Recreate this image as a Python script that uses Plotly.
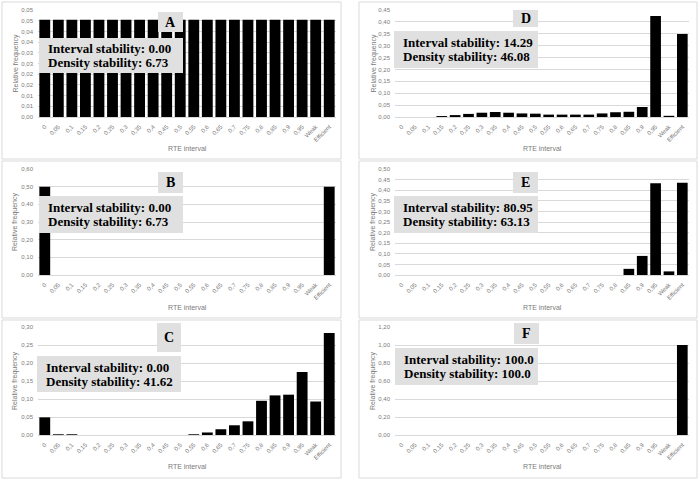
import plotly.graph_objects as go

W, H = 700, 481

CATEGORIES = ["0", "0,05", "0,1", "0,15", "0,2", "0,25", "0,3", "0,35", "0,4", "0,45", "0,5",
              "0,55", "0,6", "0,65", "0,7", "0,75", "0,8", "0,85", "0,9", "0,95", "Weak", "Efficient"]

VALUES_A = [0.0455, 0.0455, 0.0455, 0.0455, 0.0455, 0.0455, 0.0455, 0.0455, 0.0455, 0.0455, 0.0455,
            0.0455, 0.0455, 0.0455, 0.0455, 0.0455, 0.0455, 0.0455, 0.0455, 0.0455, 0.0455, 0.0455]
VALUES_B = [0.50, 0, 0, 0, 0, 0, 0, 0, 0, 0, 0,
            0, 0, 0, 0, 0, 0, 0, 0, 0, 0, 0.50]
VALUES_C = [0.049, 0.002, 0.002, 0, 0, 0, 0, 0, 0, 0, 0,
            0.002, 0.007, 0.016, 0.027, 0.038, 0.095, 0.110, 0.112, 0.175, 0.093, 0.283]
VALUES_D = [0, 0, 0, 0.004, 0.008, 0.013, 0.018, 0.021, 0.018, 0.015, 0.014,
            0.010, 0.010, 0.010, 0.010, 0.015, 0.020, 0.022, 0.042, 0.425, 0.005, 0.349]
VALUES_E = [0, 0, 0, 0, 0, 0, 0, 0, 0, 0, 0,
            0, 0, 0, 0, 0, 0, 0.029, 0.090, 0.433, 0.017, 0.435]
VALUES_F = [0, 0, 0, 0, 0, 0, 0, 0, 0, 0, 0,
            0, 0, 0, 0, 0, 0, 0, 0, 0, 0, 1.00]

TICKVALS_A = [0, 0.005, 0.01, 0.015, 0.02, 0.025, 0.03, 0.035, 0.04, 0.045, 0.05]
TICKTEXT_A = ["0,00", "0,01", "0,01", "0,02", "0,02", "0,03", "0,03", "0,04", "0,04", "0,05", "0,05"]
TICKVALS_B = [0, 0.1, 0.2, 0.3, 0.4, 0.5, 0.6]
TICKTEXT_B = ["0,00", "0,10", "0,20", "0,30", "0,40", "0,50", "0,60"]
TICKVALS_C = [0, 0.05, 0.10, 0.15, 0.20, 0.25, 0.30]
TICKTEXT_C = ["0,00", "0,05", "0,10", "0,15", "0,20", "0,25", "0,30"]
TICKVALS_D = [0, 0.05, 0.10, 0.15, 0.20, 0.25, 0.30, 0.35, 0.40, 0.45]
TICKTEXT_D = ["0,00", "0,05", "0,10", "0,15", "0,20", "0,25", "0,30", "0,35", "0,40", "0,45"]
TICKVALS_E = [0, 0.05, 0.10, 0.15, 0.20, 0.25, 0.30, 0.35, 0.40, 0.45, 0.50]
TICKTEXT_E = ["0,00", "0,05", "0,10", "0,15", "0,20", "0,25", "0,30", "0,35", "0,40", "0,45", "0,50"]
TICKVALS_F = [0, 0.2, 0.4, 0.6, 0.8, 1.0, 1.2]
TICKTEXT_F = ["0,00", "0,20", "0,40", "0,60", "0,80", "1,00", "1,20"]

LETTERS = ["A", "B", "C", "D", "E", "F"]
INTERVAL_STAB = ["0.00", "0.00", "0.00", "14.29", "80.95", "100.0"]
DENSITY_STAB = ["6.73", "6.73", "41.62", "46.08", "63.13", "100.0"]

X_TITLE = "RTE interval"
Y_TITLE = "Relative frequency"

panels = [
    dict(vals=VALUES_A, tv=TICKVALS_A, tt=TICKTEXT_A, col=0, row=0,
         letter_box=(158, 12, 183, 32), text_box=(39, 38, 183, 73)),
    dict(vals=VALUES_B, tv=TICKVALS_B, tt=TICKTEXT_B, col=0, row=1,
         letter_box=(158, 172, 183, 193), text_box=(39, 196, 183, 233)),
    dict(vals=VALUES_C, tv=TICKVALS_C, tt=TICKTEXT_C, col=0, row=2,
         letter_box=(157, 323, 181, 352), text_box=(37, 356, 181, 392)),
    dict(vals=VALUES_D, tv=TICKVALS_D, tt=TICKTEXT_D, col=1, row=0,
         letter_box=(513, 10, 538, 27), text_box=(394, 31, 538, 68)),
    dict(vals=VALUES_E, tv=TICKVALS_E, tt=TICKTEXT_E, col=1, row=1,
         letter_box=(513, 172, 538, 193), text_box=(394, 196, 538, 233)),
    dict(vals=VALUES_F, tv=TICKVALS_F, tt=TICKTEXT_F, col=1, row=2,
         letter_box=(514, 323, 539, 344), text_box=(395, 348, 538, 385)),
]

COL_X = [(38, 336), (395, 689)]
ROW_Y = [(10, 117), (169, 275), (327, 435)]
BORDER_X = [(2, 341), (359, 697)]
BORDER_Y = [(2, 159), (161, 318), (320, 478)]
X_TITLE_Y = [149, 307, 466]
Y_TITLE_X = [15, 373]

def px(x):
    return x / W

def py(y):
    return 1 - y / H

GRAY = "#d9d9d9"
TXT = "#7a7a7a"
BOX = "#e0e0e0"
SERIF = "Liberation Serif"
SANS = "Liberation Sans"

fig = go.Figure()
layout = dict(width=W, height=H, margin=dict(l=0, r=0, t=0, b=0), autosize=False,
              plot_bgcolor="white", paper_bgcolor="white", showlegend=False,
              bargap=0.2, shapes=[], annotations=[])

for i, p in enumerate(panels):
    n = "" if i == 0 else str(i + 1)
    xa, ya = "x" + n, "y" + n
    fig.add_trace(go.Bar(x=CATEGORIES, y=p["vals"], xaxis=xa, yaxis=ya,
                         marker=dict(color="black", line=dict(width=0)),
                         hoverinfo="skip"))
    x0, x1 = COL_X[p["col"]]
    y0, y1 = ROW_Y[p["row"]]
    layout["xaxis" + n] = dict(domain=[px(x0), px(x1)], anchor=ya, type="category",
                               tickangle=-45, tickfont=dict(family=SANS, size=6, color=TXT),
                               showgrid=False, showline=True, linecolor=GRAY, linewidth=1,
                               ticks="", ticklabelstandoff=3, automargin=False, fixedrange=True)
    layout["yaxis" + n] = dict(domain=[py(y1), py(y0)], anchor=xa,
                               range=[0, p["tv"][-1]], tickvals=p["tv"], ticktext=p["tt"],
                               tickfont=dict(family=SANS, size=6, color=TXT),
                               showgrid=True, gridcolor=GRAY, gridwidth=1, zeroline=False,
                               showline=False, ticks="", ticklabelstandoff=4,
                               automargin=False, fixedrange=True)
    bx0, bx1 = BORDER_X[p["col"]]
    by0, by1 = BORDER_Y[p["row"]]
    layout["shapes"].append(dict(type="rect", xref="paper", yref="paper",
                                 x0=px(bx0), x1=px(bx1), y0=py(by1), y1=py(by0),
                                 line=dict(color=GRAY, width=1), fillcolor="rgba(0,0,0,0)",
                                 layer="below"))
    for (ax0, ay0, ax1, ay1) in (p["letter_box"], p["text_box"]):
        layout["shapes"].append(dict(type="rect", xref="paper", yref="paper",
                                     x0=px(ax0), x1=px(ax1), y0=py(ay1), y1=py(ay0),
                                     line=dict(width=0), fillcolor=BOX, layer="above"))
    lx0, ly0, lx1, ly1 = p["letter_box"]
    layout["annotations"].append(dict(xref="paper", yref="paper", x=px((lx0 + lx1) / 2),
                                      y=py((ly0 + ly1) / 2), text="<b>%s</b>" % LETTERS[i],
                                      showarrow=False, xanchor="center", yanchor="middle",
                                      font=dict(family=SERIF, size=14, color="black")))
    tx0, ty0, tx1, ty1 = p["text_box"]
    cy = (ty0 + ty1) / 2
    lines = ["Interval stability: " + INTERVAL_STAB[i], "Density stability: " + DENSITY_STAB[i]]
    for k, line in enumerate(lines):
        layout["annotations"].append(dict(xref="paper", yref="paper", x=px(tx0 + 7),
                                          y=py(cy - 7 + 14 * k), text="<b>%s</b>" % line,
                                          showarrow=False, xanchor="left", yanchor="middle",
                                          font=dict(family=SERIF, size=13, color="black")))
    layout["annotations"].append(dict(xref="paper", yref="paper", x=px((x0 + x1) / 2),
                                      y=py(X_TITLE_Y[p["row"]]), text=X_TITLE, showarrow=False,
                                      xanchor="center", yanchor="middle",
                                      font=dict(family=SANS, size=7, color=TXT)))
    layout["annotations"].append(dict(xref="paper", yref="paper", x=px(Y_TITLE_X[p["col"]]),
                                      y=py((y0 + y1) / 2), text=Y_TITLE, showarrow=False,
                                      textangle=-90, xanchor="center", yanchor="middle",
                                      font=dict(family=SANS, size=7, color=TXT)))

fig.update_layout(**layout)
fig.write_html("out.html", config={"displayModeBar": False, "staticPlot": True},
               post_script="document.body.style.margin='0';document.body.style.overflow='hidden';")
